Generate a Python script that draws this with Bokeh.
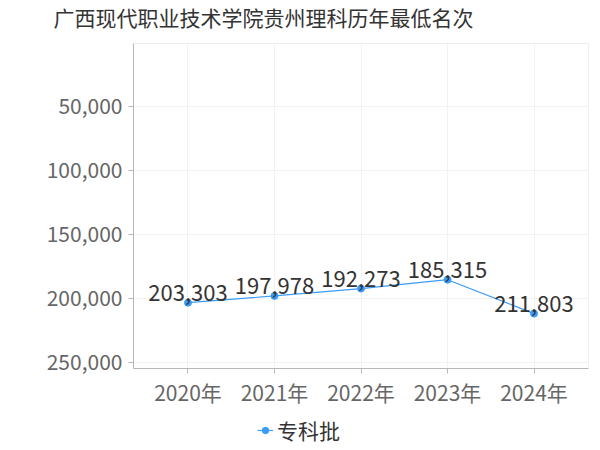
from bokeh.plotting import figure
from bokeh.layouts import column
from bokeh.models import Range1d, ColumnDataSource, LabelSet, Legend, LegendItem, FixedTicker, NumeralTickFormatter, Title
from bokeh.core.properties import value
from bokeh.embed import file_html
from bokeh.resources import INLINE

categories = ["2020年", "2021年", "2022年", "2023年", "2024年"]
values = [203303, 197978, 192273, 185315, 211803]
series_name = "专科批"
title_text = "广西现代职业技术学院贵州理科历年最低名次"
y_ticks = [50000, 100000, 150000, 200000, 250000]

FONT = "Noto Sans CJK SC"
BLUE = "#3a9cf8"

xs = list(range(len(categories)))
src = ColumnDataSource(dict(x=xs, y=values, lab=[f"{v:,}" for v in values]))

# title strip
t = figure(width=600, height=38, output_backend="svg", toolbar_location=None,
           x_range=Range1d(0, 1), y_range=Range1d(0, 1),
           x_axis_location=None, y_axis_location=None,
           min_border_left=133, min_border_right=12, min_border_top=0, min_border_bottom=0)
t.grid.visible = False
t.outline_line_color = None
t.title = Title(text=title_text, text_font=FONT, text_font_size="21px", text_color="#333333",
                text_font_style="normal", align="left", offset=-80, standoff=14)

# main chart
p = figure(width=600, height=374, output_backend="svg", toolbar_location=None,
           x_range=Range1d(-0.63, len(categories) - 1 + 0.63),
           y_range=Range1d(254700, 800),
           min_border_left=133, min_border_right=12, min_border_top=5, min_border_bottom=44)

p.line("x", "y", source=src, line_color=BLUE, line_width=1.2)
p.scatter("x", "y", source=src, size=7, fill_color=BLUE, line_color=BLUE)

labels = LabelSet(x="x", y="y", text="lab", source=src, text_align="center", text_baseline="bottom",
                  y_offset=2, text_font=value(FONT), text_font_size="22px", text_color="#333333")
p.add_layout(labels)

p.xaxis.ticker = FixedTicker(ticks=xs)
p.xaxis.major_label_overrides = {i: c for i, c in enumerate(categories)}
p.yaxis.ticker = FixedTicker(ticks=y_ticks)
p.yaxis.formatter = NumeralTickFormatter(format="0,0")

for ax in (p.xaxis, p.yaxis):
    ax.axis_line_color = "#b8b8b8"
    ax.major_tick_line_color = "#b8b8b8"
    ax.major_tick_out = 5
    ax.major_tick_in = 0
    ax.minor_tick_line_color = None
    ax.major_label_text_font = FONT
    ax.major_label_text_font_size = "21px"
    ax.major_label_text_color = "#666666"
p.yaxis.major_label_standoff = 6
p.xaxis.major_label_standoff = 3

p.xgrid.ticker = FixedTicker(ticks=xs)
p.grid.grid_line_color = "#f2f2f2"
p.outline_line_color = "#eeeeee"

# legend strip below the chart
q = figure(width=600, height=38, output_backend="svg", toolbar_location=None,
           x_range=Range1d(100, 101), y_range=Range1d(100, 101),
           x_axis_location=None, y_axis_location=None,
           min_border_left=133, min_border_right=12, min_border_top=0, min_border_bottom=0)
q.grid.visible = False
q.outline_line_color = None
lq = q.line("x", "y", source=src, line_color=BLUE, line_width=1.2)
sq = q.scatter("x", "y", source=src, size=7, fill_color=BLUE, line_color=BLUE)
legend = Legend(items=[LegendItem(label=series_name, renderers=[lq, sq])],
                location=(124, 5), orientation="horizontal",
                label_text_font=FONT, label_text_font_size="21px", label_text_color="#333333",
                glyph_width=16, glyph_height=20, padding=0, margin=0, label_standoff=4,
                border_line_color=None, background_fill_alpha=0)
q.add_layout(legend, "center")

open("out.html", "w").write(file_html(column(t, p, q, spacing=0), INLINE))
